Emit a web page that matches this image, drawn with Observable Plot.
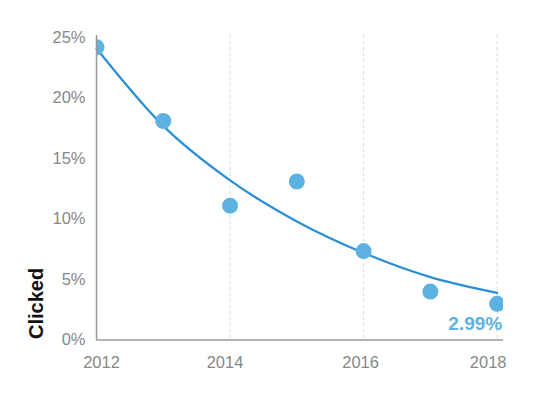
<!DOCTYPE html>
<html>
<head>
<meta charset="utf-8">
<script src="https://cdn.jsdelivr.net/npm/d3@7"></script>
<script src="https://cdn.jsdelivr.net/npm/@observablehq/plot@0.6"></script>
<style>
  html, body { margin: 0; padding: 0; background: #fff; }
  #chart svg { display: block; }
</style>
</head>
<body>
<div id="chart"></div>
<script>
const years = [2012, 2013, 2014, 2015, 2016, 2017, 2018];
const clicked = [24.2, 18.1, 11.1, 13.1, 7.35, 4.0, 2.99];
const trend = [24.1, 17.7, 13.2, 9.8, 7.2, 5.2, 3.9];
const xTicks = [2012, 2014, 2016, 2018];
const yTicks = [0, 5, 10, 15, 20, 25];
const yLabel = "Clicked";

const points = years.map((y, i) => ({year: y, value: clicked[i]}));
const fit = years.map((y, i) => ({year: y, value: trend[i]}));
const last = [points[points.length - 1]];

const font = "'Liberation Sans', Arial, Helvetica, sans-serif";
// small horizontal nudges of the x tick labels, as in the reference
const xLabelShift = [5, -5, -3, -9];

const chart = Plot.plot({
  width: 537,
  height: 396,
  marginLeft: 96,
  marginRight: 34,
  marginTop: 35,
  marginBottom: 56.5,
  x: {domain: [2012, 2018.095]},
  y: {domain: [0, 25.17]},
  style: {fontFamily: font, fontSize: "16.5px", color: "#888", background: "#fff"},
  marks: [
    Plot.ruleX(xTicks.slice(1), {stroke: "#d6d6d6", strokeDasharray: "3,3", strokeWidth: 1}),
    ...xTicks.map((t, i) => Plot.axisX([t], {tickSize: 0, tickPadding: 16, dx: xLabelShift[i],
      tickFormat: d => String(d), label: null, fill: "#888"})),
    Plot.axisY(yTicks, {tickSize: 0, tickPadding: 11, tickFormat: d => d + "%", label: null, fill: "#888"}),
    Plot.line(fit, {x: "year", y: "value", stroke: "#2a8fd5", strokeWidth: 2.2, curve: "monotone-x"}),
    Plot.dot(points, {x: "year", y: "value", r: 8, fill: "#5db2e1", clip: true}),
    Plot.ruleX([2012], {stroke: "#999", strokeWidth: 1.5}),
    Plot.ruleY([0], {stroke: "#999", strokeWidth: 1.5}),
    Plot.text(last, {x: "year", y: "value", text: d => d.value.toFixed(2) + "%", dx: 5, dy: 20,
      textAnchor: "end", fontWeight: "bold", fontSize: 19, fill: "#5db2e1"})
  ]
});

d3.select(chart).append("text")
  .attr("transform", "translate(43,339) rotate(-90)")
  .attr("text-anchor", "start")
  .attr("font-family", font)
  .attr("font-weight", "bold")
  .attr("font-size", 20)
  .attr("fill", "#111")
  .text(yLabel);

document.getElementById("chart").appendChild(chart);
</script>
</body>
</html>
